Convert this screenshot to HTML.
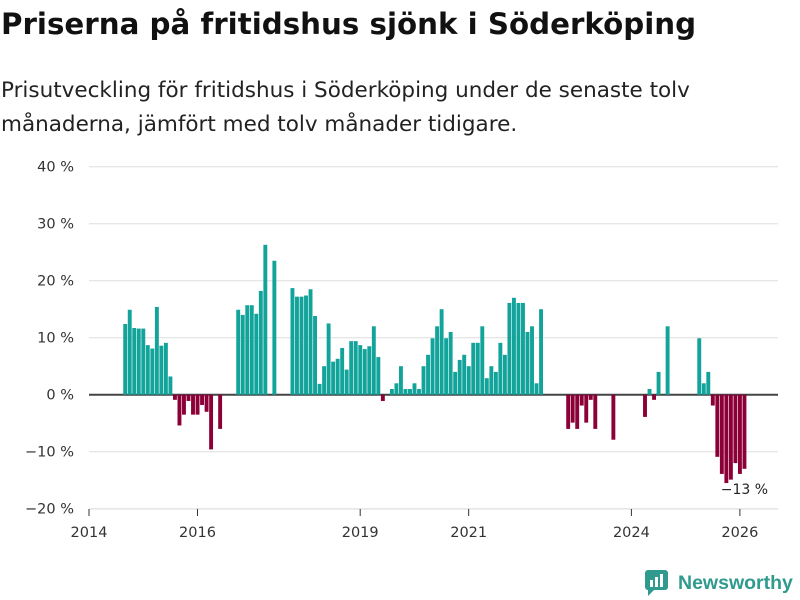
<!DOCTYPE html>
<html><head><meta charset="utf-8">
<style>
body{margin:0;background:#fff;font-family:"DejaVu Sans",sans-serif;}
#wrap{position:relative;width:800px;height:600px;overflow:hidden;}
h1{position:absolute;left:1px;top:7px;margin:0;font-size:29.3px;font-weight:bold;color:#111;white-space:nowrap;}
p.sub{position:absolute;left:1px;top:74px;margin:0;font-size:21.5px;line-height:34px;color:#222;white-space:nowrap;}
svg text{font-family:"DejaVu Sans",sans-serif;}
</style></head><body>
<div id="wrap">
<h1>Priserna på fritidshus sjönk i Söderköping</h1>
<p class="sub">Prisutveckling för fritidshus i Söderköping under de senaste tolv<br>månaderna, jämfört med tolv månader tidigare.</p>
<svg id="chart" width="800" height="600" style="position:absolute;left:0;top:0"></svg>
<div style="position:absolute;left:645px;top:570px;display:flex;align-items:center;">
<svg width="24" height="26"><rect x="0" y="0" width="23" height="20" rx="3" fill="#2f9a8e"/><polygon points="3,20 9,20 3,26" fill="#2f9a8e"/><rect x="5" y="10" width="3" height="7" fill="#fff"/><rect x="10" y="7" width="3" height="10" fill="#fff"/><rect x="15" y="4" width="3" height="13" fill="#fff"/></svg>
<span style="margin-left:9px;font-size:19.5px;font-weight:bold;color:#2f9a8e;font-family:'Liberation Sans',sans-serif;">Newsworthy</span>
</div>
</div>
<script>
const months = [8,9,10,11,12,13,14,15,16,17,18,19,20,21,22,23,24,25,26,27,29,
33,34,35,36,37,38,39,41,
45,46,47,48,49,50,51,52,53,54,55,56,57,58,59,60,61,62,63,64,65,67,68,69,70,71,72,
73,74,75,76,77,78,79,80,81,82,83,84,85,86,87,88,89,90,91,92,93,94,95,96,97,98,99,100,
106,107,108,109,110,111,112,116,123,124,125,126,128,135,136,137,138,139,140,141,142,143,144,145];
const values = [12.4,14.9,11.7,11.6,11.6,8.7,8.1,15.4,8.6,9.1,3.2,-0.9,-5.4,-3.5,-1.1,-3.5,-3.5,-1.8,-3.0,-9.6,-6.0,
14.9,14.0,15.7,15.7,14.2,18.2,26.3,23.5,
18.7,17.2,17.2,17.4,18.5,13.8,1.9,5.0,12.5,5.8,6.3,8.2,4.4,9.4,9.4,8.7,8.0,8.5,12.0,6.6,-1.1,1.0,2.0,5.0,1.0,1.0,2.0,
1.0,5.0,7.0,9.9,12.0,15.0,9.9,11.0,4.0,6.1,7.0,5.0,9.1,9.1,12.0,2.9,5.0,4.0,9.1,7.0,16.1,17.0,16.1,16.1,11.0,12.0,2.0,15.0,
-6.0,-4.9,-6.0,-1.9,-4.9,-0.9,-6.0,-7.9,-3.9,1.0,-0.9,4.0,12.0,9.9,2.0,4.0,-1.9,-10.9,-13.9,-15.5,-14.9,-12.0,-13.9,-13.0];
const yTicks = [-20,-10,0,10,20,30,40];
const xTickYears = [2014,2016,2019,2021,2024,2026];
const lastLabel = "−13 %";

const svg = document.getElementById('chart');
const NS = 'http://www.w3.org/2000/svg';
function xM(m){return 89 + m*4.52;}
function yV(v){return 394.7 - v*5.7;}
function mk(t,a){const e=document.createElementNS(NS,t);for(const k in a)e.setAttribute(k,a[k]);svg.appendChild(e);return e;}

yTicks.forEach(v=>{
  const g = mk('line',{x1:89,x2:778,y1:yV(v),y2:yV(v),stroke:v===0?'#444':'#dedede','stroke-width':v===0?2:1});
  
  
  const t = mk('text',{x:74,y:yV(v)+5,'text-anchor':'end','font-size':14.5,fill:'#333'});
  t.textContent = (v<0?'−'+(-v):v)+' %';
  
  
});
const ax = mk('line',{x1:89,x2:778,y1:509,y2:509,stroke:'#dedede','stroke-width':1});


xTickYears.forEach(yr=>{
  const x = xM((yr-2014)*12);
  const l = mk('line',{x1:x,x2:x,y1:509,y2:516,stroke:'#333','stroke-width':1});
  
  
  const t = mk('text',{x:x,y:537,'text-anchor':'middle','font-size':14.5,fill:'#333'});
  t.textContent = yr;
  
  
});
months.forEach((m,i)=>{
  const v = values[i];
  const y0 = yV(0), y1 = yV(v);
  const r = mk('rect',{x:xM(m)-1.9,width:3.9,y:Math.min(y0,y1),height:Math.abs(y1-y0),fill:v>=0?'#12a39a':'#8c0038'});
  
  
});
const lm = months[months.length-1];
const lab = mk('text',{x:xM(lm),y:yV(values[values.length-1])+25,'text-anchor':'middle','font-size':14,fill:'#222'});
lab.textContent = lastLabel;


</script>
</body></html>
